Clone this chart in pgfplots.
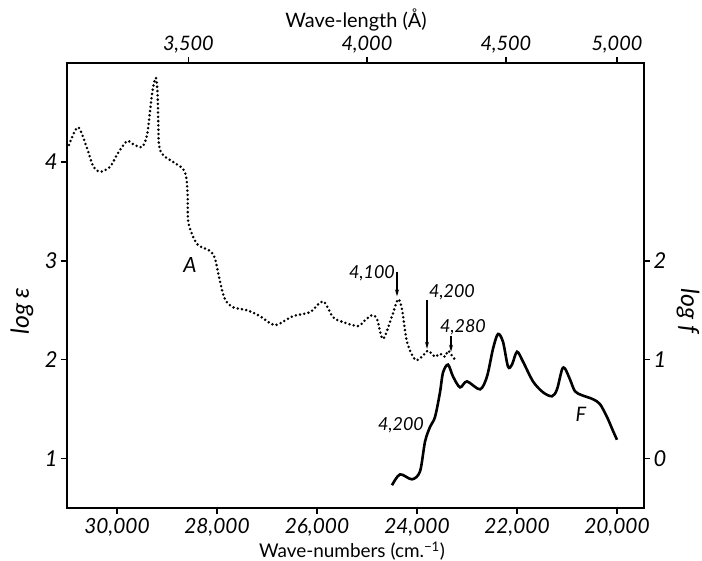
\documentclass[border=0pt]{standalone}
\usepackage{pgfplots}
\pgfplotsset{compat=1.18}
\usepackage{pgfplotstable}
\usepackage{fontspec}
\setmainfont{Lato}
\usetikzlibrary{arrows.meta}

\pgfplotstableread{
w le
30960 4.17
30780 4.35
30600 4.14
30480 3.96
30340 3.90
30140 3.95
29980 4.09
29800 4.21
29680 4.18
29500 4.15
29400 4.27
29340 4.51
29280 4.75
29220 4.85
29190 4.70
29175 4.41
29160 4.17
29080 4.07
28880 4.00
28680 3.93
28610 3.83
28585 3.63
28570 3.38
28400 3.17
28140 3.10
28040 3.02
27940 2.79
27840 2.61
27680 2.53
27400 2.50
27140 2.44
26840 2.35
26480 2.44
26140 2.48
25880 2.59
25680 2.43
25480 2.38
25180 2.34
25060 2.39
24900 2.45
24800 2.41
24680 2.21
24500 2.44
24380 2.61
24300 2.51
24200 2.18
24040 2.00
23900 2.03
23780 2.09
23640 2.03
23540 2.06
23440 2.03
23380 2.09
23300 2.04
23240 2.00
}\curveA

\pgfplotstableread{
w lf
24500 -0.27
24340 -0.16
24100 -0.21
23940 -0.13
23840 0.17
23740 0.32
23640 0.42
23540 0.67
23480 0.87
23380 0.95
23280 0.83
23140 0.72
23000 0.78
22740 0.70
22600 0.83
22480 1.11
22380 1.26
22280 1.18
22180 0.93
22100 0.95
22000 1.08
21880 0.98
21680 0.78
21480 0.67
21300 0.63
21200 0.70
21100 0.90
21040 0.91
20940 0.80
20840 0.68
20700 0.64
20480 0.60
20340 0.55
20200 0.42
20080 0.28
20000 0.19
}\curveF

\begin{document}
\begin{tikzpicture}[x=1bp,y=1bp]
\useasboundingbox (0,0) rectangle (702,561);
\pgfplotsset{
  common/.style={
    at={(67bp,53bp)}, anchor=south west, scale only axis,
    width=577bp, height=445bp,
    x dir=reverse, xmin=19460, xmax=31000,
    scaled x ticks=false, scaled y ticks=false,
    axis line style={line width=2.6bp},
    tick align=outside, major tick length=6bp,
    tick style={line width=1.6bp, black},
    clip=false,
  }
}
\begin{axis}[common,
  ymin=0.5, ymax=5.0,
  xtick={20000,22000,24000,26000,28000,30000},
  xticklabels={{20,000},{22,000},{24,000},{26,000},{28,000},{30,000}},
  ytick={1,2,3,4}, yticklabels={1,2,3,4},
  xtick pos=left, ytick pos=left,
  xticklabel pos=left, yticklabel pos=left,
  xticklabel style={font=\fontsize{21}{24}\selectfont\itshape, yshift=-1bp},
  yticklabel style={font=\fontsize{22}{24}\selectfont\itshape},
]
\addplot[black, line width=2.8bp, line cap=round, dash pattern=on 0bp off 4.3bp, smooth, tension=0.5]
  table[x=w, y=le] {\curveA};
\draw[-{Stealth[length=7bp,width=4bp]}, line width=1.1bp] (axis cs:24400,2.89) -- (axis cs:24400,2.64);
\draw[-{Stealth[length=7bp,width=4bp]}, line width=1.1bp] (axis cs:23800,2.60) -- (axis cs:23800,2.11);
\draw[-{Stealth[length=7bp,width=4bp]}, line width=1.1bp] (axis cs:23320,2.24) -- (axis cs:23320,2.08);
\end{axis}
\begin{axis}[common,
  ymin=-0.5, ymax=4.0,
  xtick={28571.43,25000,22222.22,20000},
  xticklabels={{3,500},{4,000},{4,500},{5,000}},
  ytick={0,1,2}, yticklabels={0,1,2},
  xtick pos=right, ytick pos=right,
  xticklabel pos=right, yticklabel pos=right,
  xticklabel style={font=\fontsize{20}{24}\selectfont\itshape},
  yticklabel style={font=\fontsize{22}{24}\selectfont\itshape},
]
\addplot[black, line width=2.6bp, smooth, tension=0.5]
  table[x=w, y=lf] {\curveF};
\end{axis}
\node[font=\fontsize{19}{22}\selectfont, inner sep=1bp] at (352,10) {Wave-numbers (cm.\textsuperscript{−1})};
\node[font=\fontsize{20}{24}\selectfont] at (356,541) {Wave-length (Å)};
\node[font=\fontsize{25}{28}\selectfont\itshape, rotate=90] at (22,250) {log ε};
\node[font=\fontsize{25}{28}\selectfont\itshape, rotate=-90] at (688,250) {log f};
\node[font=\fontsize{21}{24}\selectfont\itshape] at (190,296) {A};
\node[font=\fontsize{20}{24}\selectfont\itshape] at (581,147) {F};
\node[font=\fontsize{18}{20}\selectfont\itshape] at (372,288) {4,100};
\node[font=\fontsize{18}{20}\selectfont\itshape] at (452,269) {4,200};
\node[font=\fontsize{18}{20}\selectfont\itshape] at (463,234) {4,280};
\node[font=\fontsize{18}{20}\selectfont\itshape] at (401,136) {4,200};
\end{tikzpicture}
\end{document}
